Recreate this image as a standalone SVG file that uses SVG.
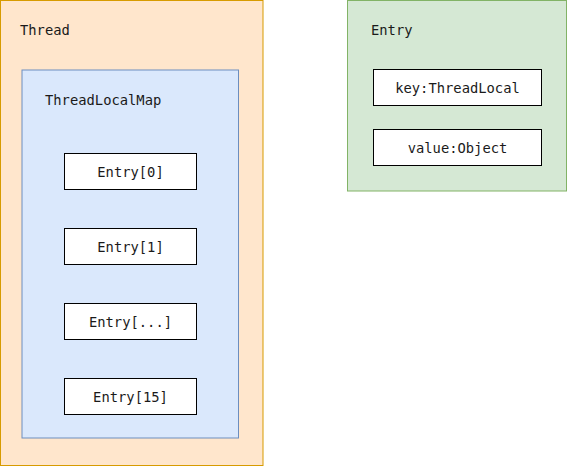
<svg xmlns="http://www.w3.org/2000/svg" width="567" height="467" viewBox="0 0 567 467">
<style>
text{font-family:"DejaVu Sans Mono","Liberation Mono",monospace;font-size:13.8px;fill:#1a1a1a}
.c{text-anchor:middle;dominant-baseline:central}
.box{fill:#ffffff;stroke:#000000;stroke-width:1}
</style>
<g id="thread">
<rect x="0.5" y="0.5" width="262.5" height="465" fill="#ffe6cc" stroke="#d79b00"/>
<text x="20" y="35">Thread</text>
</g>
<g id="threadlocalmap">
<rect x="22" y="70" width="216.5" height="368" fill="#dae8fc" stroke="#6c8ebf"/>
<text x="45" y="105">ThreadLocalMap</text>
</g>
<g id="entry0"><rect class="box" x="64.5" y="153.5" width="132" height="36"/><text class="c" x="130.5" y="171.5">Entry[0]</text></g>
<g id="entry1"><rect class="box" x="64.5" y="228.5" width="132" height="36"/><text class="c" x="130.5" y="246.5">Entry[1]</text></g>
<g id="entryN"><rect class="box" x="64.5" y="303.5" width="132" height="36"/><text class="c" x="130.5" y="321.5">Entry[...]</text></g>
<g id="entry15"><rect class="box" x="64.5" y="378.5" width="132" height="36"/><text class="c" x="130.5" y="396.5">Entry[15]</text></g>
<g id="entry">
<rect x="347.5" y="0.5" width="219" height="190.5" fill="#d5e8d4" stroke="#82b366"/>
<text x="371" y="35">Entry</text>
</g>
<g id="key"><rect class="box" x="373.5" y="69.5" width="168" height="36"/><text class="c" x="457.5" y="87.5">key:ThreadLocal</text></g>
<g id="value"><rect class="box" x="373.5" y="129.5" width="168" height="36"/><text class="c" x="457.5" y="147.5">value:Object</text></g>
<g id="connectors"/>
</svg>
